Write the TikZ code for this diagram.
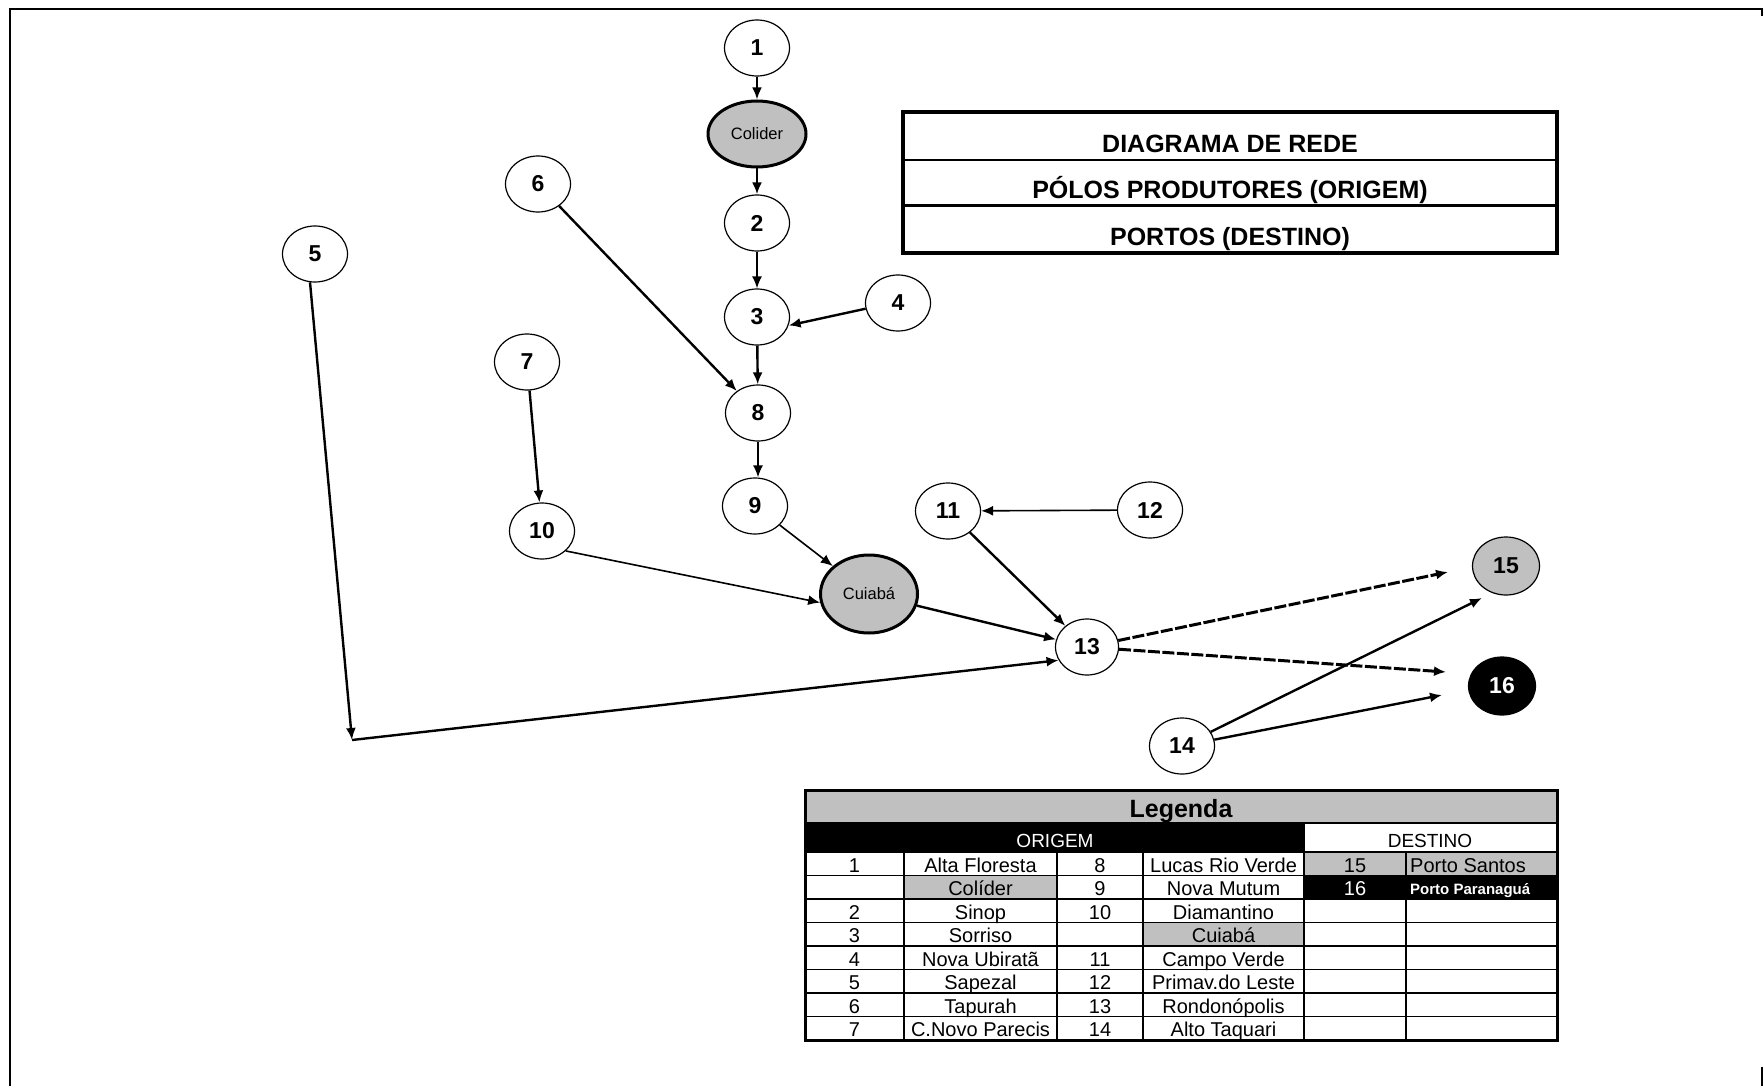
\documentclass[tikz,border=0pt]{standalone}
\usepackage{fontspec}
\setmainfont{Liberation Sans}
\usetikzlibrary{arrows.meta,shapes.geometric}
\definecolor{grayfill}{HTML}{C0C0C0}
\begin{document}
\begin{tikzpicture}[x=1pt,y=-1pt,
  num/.style={ellipse,draw,line width=1.2pt,minimum width=65pt,minimum height=56pt,inner sep=0pt,font=\fontsize{23}{23}\selectfont\bfseries},
  city/.style={ellipse,draw,line width=3pt,fill=grayfill,inner sep=0pt,font=\fontsize{16.5}{16.5}\selectfont},
  arr/.style={-{Latex[length=12pt,width=10pt]},line width=2.4pt},
  thinarr/.style={arr,line width=1.6pt},
  dasharr/.style={arr,line width=3pt,dash pattern=on 12pt off 2.5pt},
  ttext/.style={anchor=base,inner sep=0pt,font=\fontsize{25}{25}\selectfont\bfseries},
  cell/.style={anchor=base,inner sep=0pt,font=\fontsize{20}{20}\selectfont},
  lcell/.style={cell,anchor=base west},
  hdr/.style={anchor=base,inner sep=0pt,font=\fontsize{19}{19}\selectfont},
]
\useasboundingbox (0,0) rectangle (1763,1086);
% outer frame (partly visible)
\draw[line width=2pt] (9.5,1086) -- (9.5,9) -- (1762,9) -- (1762,16);
\draw[line width=2pt] (1762,1067) -- (1762,1086);

% title box
\draw[line width=1.5pt] (903,160) -- (1557,160);
\draw[line width=3pt] (903,205) -- (1557,205);
\draw[line width=3.5pt] (903,112) rectangle (1557,253);
\node[ttext] (t1) at (1230,153) {DIAGRAMA DE REDE};
\node[ttext] (t2) at (1230,198) {PÓLOS PRODUTORES (ORIGEM)};
\node[ttext] (t3) at (1230,245) {PORTOS (DESTINO)};

% nodes
\node[num] (n1) at (757,48) {1};
\node[city,minimum width=98pt,minimum height=66pt] (col) at (757,134) {Colider};
\node[num] (n2) at (757,223) {2};
\node[num] (n3) at (757,317) {3};
\node[num] (n4) at (898,303) {4};
\node[num] (n5) at (315,254) {5};
\node[num] (n6) at (538,184) {6};
\node[num] (n7) at (527,362) {7};
\node[num] (n8) at (758,413) {8};
\node[num] (n9) at (755,506) {9};
\node[num] (n10) at (542,531) {10};
\node[num] (n11) at (948,511) {11};
\node[num] (n12) at (1150,510) {12};
\node[city,minimum width=97pt,minimum height=78pt] (cui) at (869,594) {Cuiabá};
\node[num,minimum width=63pt] (n13) at (1087,647) {13};
\node[num] (n14) at (1182,746) {14};
\node[num,fill=grayfill,minimum width=67pt,minimum height=58pt] (n15) at (1506,566) {15};
\node[num,fill=black,text=white,minimum width=67pt,minimum height=58pt] (n16) at (1502,686) {16};
\coordinate (bend) at (352,740);
\coordinate (e1315) at (1448,572);
\coordinate (e1316) at (1446,672);
\coordinate (e1415) at (1482,598);
\coordinate (e1416) at (1442,695);

% connectors
\draw[arr] (n1) -- (col);
\draw[arr] (col) -- (n2);
\draw[thinarr] (n2) -- (n3);
\draw[arr] (n4.190) -- (n3.-15);
\draw[arr] (n3) -- (n8);
\draw[arr] (n6) -- (n8);
\draw[thinarr] (n8) -- (n8 |- n9.north);
\draw[arr] (n7) -- (n10);
\draw[thinarr] (n9) -- (cui);
\draw[thinarr] (n10.-40) -- (cui.190);
\draw[arr] (cui) -- (n13);
\draw[arr] (n11) -- (n13);
\draw[thinarr] (n12) -- (n11);
\draw[arr] (n5.260) -- (bend);
\draw[arr] (bend) -- (n13.205);
\draw[dasharr] (n13) -- (e1315);
\draw[dasharr] (n13) -- (e1316);
\draw[arr] (n14) -- (e1415);
\draw[arr] (n14) -- (e1416);

% legend table fills
\fill[grayfill] (805,790) rectangle (1557,823);
\fill[black] (805,823) rectangle (1304,852);
\fill[grayfill] (904,875.5) rectangle (1057,899);
\fill[grayfill] (1143,922.5) rectangle (1304,946);
\fill[grayfill] (1304,852) rectangle (1557,875.5);
\fill[black] (1304,875.5) rectangle (1557,899);
% legend lines
\foreach \yy in {823,852,875.5,899,922.5,946,969.5,993,1016.5}
  \draw[line width=1.6pt] (805,\yy) -- (1557,\yy);
\foreach \xx in {904,1057,1143,1406}
  \draw[line width=1.6pt] (\xx,852) -- (\xx,1040);
\draw[line width=1.6pt] (1304,823) -- (1304,1040);
\draw[line width=3pt] (805,790) rectangle (1557,1040);

% legend texts
\node[anchor=base,inner sep=0pt,font=\fontsize{25}{25}\selectfont\bfseries] (lg) at (1181,817) {Legenda};
\node[hdr,text=white] (hor) at (1055,847) {ORIGEM};
\node[hdr] (hde) at (1430,847) {DESTINO};

\node[cell] (a1) at (854.5,872) {1};
\node[cell] (b1) at (980.5,872) {Alta Floresta};
\node[cell] (c1) at (1100,872) {8};
\node[cell] (d1) at (1223.5,872) {Lucas Rio Verde};
\node[cell] (e1) at (1355,872) {15};
\node[lcell] (f1) at (1410,872) {Porto Santos};

\node[cell] (b2) at (980.5,895.5) {Colíder};
\node[cell] (c2) at (1100,895.5) {9};
\node[cell] (d2) at (1223.5,895.5) {Nova Mutum};
\node[cell,text=white] (e2) at (1355,895.5) {16};
\node[lcell,text=white,font=\fontsize{15}{15}\selectfont\bfseries] (f2) at (1410,894) {Porto Paranaguá};

\node[cell] (a3) at (854.5,919) {2};
\node[cell] (b3) at (980.5,919) {Sinop};
\node[cell] (c3) at (1100,919) {10};
\node[cell] (d3) at (1223.5,919) {Diamantino};

\node[cell] (a4) at (854.5,942.5) {3};
\node[cell] (b4) at (980.5,942.5) {Sorriso};
\node[cell] (d4) at (1223.5,942.5) {Cuiabá};

\node[cell] (a5) at (854.5,966) {4};
\node[cell] (b5) at (980.5,966) {Nova Ubiratã};
\node[cell] (c5) at (1100,966) {11};
\node[cell] (d5) at (1223.5,966) {Campo Verde};

\node[cell] (a6) at (854.5,989.5) {5};
\node[cell] (b6) at (980.5,989.5) {Sapezal};
\node[cell] (c6) at (1100,989.5) {12};
\node[cell] (d6) at (1223.5,989.5) {Primav.do Leste};

\node[cell] (a7) at (854.5,1013) {6};
\node[cell] (b7) at (980.5,1013) {Tapurah};
\node[cell] (c7) at (1100,1013) {13};
\node[cell] (d7) at (1223.5,1013) {Rondonópolis};

\node[cell] (a8) at (854.5,1036.5) {7};
\node[cell] (b8) at (980.5,1036.5) {C.Novo Parecis};
\node[cell] (c8) at (1100,1036.5) {14};
\node[cell] (d8) at (1223.5,1036.5) {Alto Taquari};
\end{tikzpicture}
\end{document}
